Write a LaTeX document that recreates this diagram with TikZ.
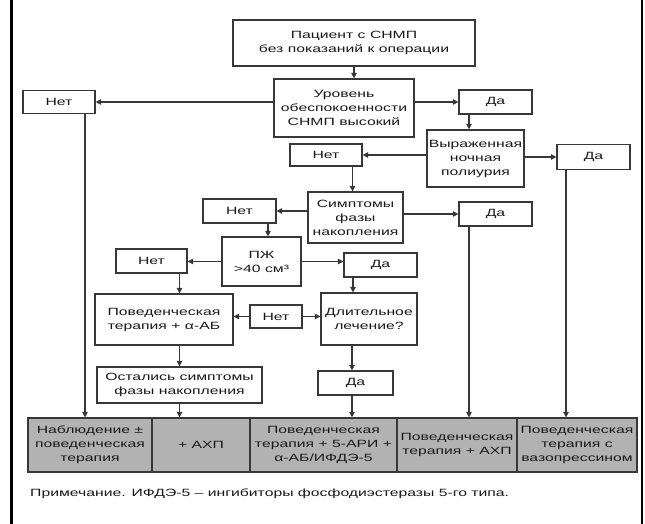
\documentclass[tikz,border=0pt]{standalone}
\usepackage{fontspec}
\setmainfont[FakeStretch=1.5]{Liberation Sans}
\usetikzlibrary{arrows.meta}
\definecolor{edge}{RGB}{55,55,55}
\definecolor{cellfill}{RGB}{178,178,178}
\begin{document}
\begin{tikzpicture}[x=1pt,y=-1pt,
  every node/.style={font=\fontsize{10.5}{14}\selectfont, text=black!90},
  box/.style={draw=edge, line width=1.2pt, fill=white, inner sep=0pt, align=center},
  cell/.style={draw=edge, line width=1.2pt, fill=cellfill, inner sep=0pt, align=center, minimum height=54pt},
  arr/.style={draw=edge, line width=1.2pt, -{Triangle[length=5.5pt,width=5.5pt]}}]
\useasboundingbox (0,0) rectangle (645,524);
\fill[white] (0,0) rectangle (645,524);
\draw[black, line width=3pt] (11.5,0) -- (11.5,524);
\draw[black, line width=2pt] (642,0) -- (642,524);

\node[box, minimum width=242pt, minimum height=46pt] (top) at (354,43) {Пациент с СНМП\\без показаний к операции};
\node[box, minimum width=140pt, minimum height=58pt] (lvl) at (344,108) {Уровень\\обеспокоенности\\СНМП высокий};
\node[box, minimum width=72pt, minimum height=23pt] (net1) at (59,102) {Нет};
\node[box, minimum width=73pt, minimum height=24pt] (da1) at (495.5,102) {Да};
\node[box, minimum width=97pt, minimum height=57pt] (vyr) at (475.5,158.5) {Выраженная\\ночная\\полиурия};
\node[box, minimum width=72pt, minimum height=22pt] (net2) at (326,155) {Нет};
\node[box, minimum width=73pt, minimum height=25pt] (da2) at (593.5,157) {Да};
\node[box, minimum width=95pt, minimum height=51pt] (sym) at (355.5,217.5) {Симптомы\\фазы\\накопления};
\node[box, minimum width=73pt, minimum height=24pt] (da3) at (495.5,214) {Да};
\node[box, minimum width=73pt, minimum height=24pt] (net3) at (239.5,211) {Нет};
\node[box, minimum width=79pt, minimum height=49pt] (pzh) at (261.5,261.5) {ПЖ\\>40 см³};
\node[box, minimum width=71pt, minimum height=24pt] (net4) at (151.5,261) {Нет};
\node[box, minimum width=73pt, minimum height=24pt] (da4) at (380.5,265) {Да};
\node[box, minimum width=96pt, minimum height=52pt] (dlit) at (369,319) {Длительное\\лечение?};
\node[box, minimum width=138pt, minimum height=51pt] (pov) at (164,319.5) {Поведенческая\\терапия + α-АБ};
\node[box, minimum width=52pt, minimum height=23pt] (net5) at (276,316.5) {Нет};
\node[box, minimum width=165pt, minimum height=36pt] (ost) at (179.5,385) {Остались симптомы\\фазы накопления};
\node[box, minimum width=75pt, minimum height=24pt] (da5) at (355.5,383) {Да};

\node[cell, minimum width=124pt] (c1) at (90,445) {Наблюдение ±\\поведенческая\\терапия};
\node[cell, minimum width=98pt] (c2) at (201,445) {+ АХП};
\node[cell, minimum width=147pt] (c3) at (323.5,445) {Поведенческая\\терапия + 5-АРИ +\\α-АБ/ИФДЭ-5};
\node[cell, minimum width=120pt] (c4) at (457,445) {Поведенческая\\терапия + АХП};
\node[cell, minimum width=120pt] (c5) at (577,445) {Поведенческая\\терапия с\\вазопрессином};

\node[anchor=west, inner sep=0pt] (note) at (30,494) {Примечание. ИФДЭ-5 – ингибиторы фосфодиэстеразы 5-го типа.};

% connectors
\draw[arr] (top.south) -- (top.south |- lvl.north);
\draw[arr] (lvl.west |- net1.east) -- (net1.east);
\draw[arr] (lvl.east |- da1.west) -- (da1.west);
\draw[arr] ([xshift=-6.5pt]vyr.north |- da1.south) -- ([xshift=-6.5pt]vyr.north);
\draw[arr] (vyr.west |- net2.east) -- (net2.east);
\draw[arr] (vyr.east |- da2.west) -- (da2.west);
\draw[arr] ([xshift=-3pt]sym.north |- net2.south) -- ([xshift=-3pt]sym.north);
\draw[arr] (sym.west |- net3.east) -- (net3.east);
\draw[arr] (sym.east |- da3.west) -- (da3.west);
\draw[arr] ([xshift=6.5pt]pzh.north |- net3.south) -- ([xshift=6.5pt]pzh.north);
\draw[arr] (pzh.west) -- (pzh.west -| net4.east);
\draw[arr] (pzh.east) -- (pzh.east -| da4.west);
\draw[arr] (ost.north |- net4.south) -- (ost.north |- pov.north);
\draw[arr] ([xshift=-27.5pt]da4.south) -- ([xshift=-27.5pt]da4.south |- dlit.north);
\draw[arr] (net5.west) -- (net5.west -| pov.east);
\draw[arr] (net5.east) -- (net5.east -| dlit.west);
\draw[arr] (ost.north |- pov.south) -- (ost.north);
\draw[arr] ([xshift=-3.5pt]da5.north |- dlit.south) -- ([xshift=-3.5pt]da5.north);
\draw[arr] ([xshift=26pt]net1.south) -- ([xshift=26pt]net1.south |- c1.north);
\draw[arr] (ost.south) -- (ost.south |- c2.north);
\draw[arr] ([xshift=-3.5pt]da5.south) -- ([xshift=-3.5pt]da5.south |- c3.north);
\draw[arr] ([xshift=-26.5pt]da3.south) -- ([xshift=-26.5pt]da3.south |- c4.north);
\draw[arr] ([xshift=-27.5pt]da2.south) -- ([xshift=-27.5pt]da2.south |- c5.north);
\end{tikzpicture}
\end{document}
